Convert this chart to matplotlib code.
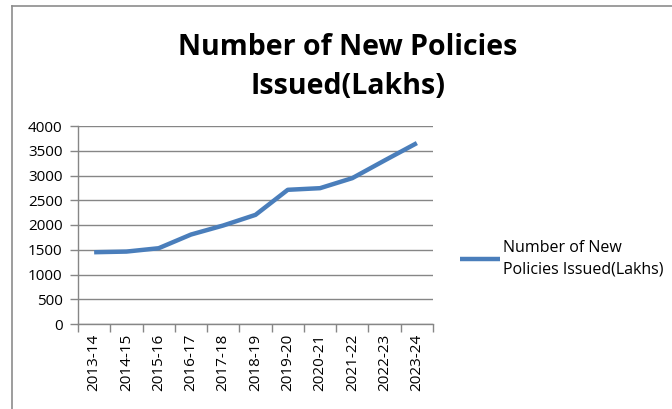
import matplotlib.pyplot as plt
from matplotlib.lines import Line2D
from matplotlib.ticker import FixedLocator, NullFormatter

# New policies issued per year, in lakhs
years = ["2013-14", "2014-15", "2015-16", "2016-17", "2017-18", "2018-19",
         "2019-20", "2020-21", "2021-22", "2022-23", "2023-24"]
policies = [1450, 1463, 1531, 1807, 1990, 2205, 2711, 2744, 2947, 3304, 3655]
y_ticks = [0, 500, 1000, 1500, 2000, 2500, 3000, 3500, 4000]

plt.rcParams['font.family'] = ['Open Sans', 'DejaVu Sans']
W, H = 672, 409
fig = plt.figure(figsize=(W / 100, H / 100), dpi=100)
ax = fig.add_axes([78 / W, 1 - 324 / H, (433 - 78) / W, (324 - 126) / H])

grey = "#868686"
x = list(range(len(years)))
ax.plot(x, policies, color="#4a7ebb", linewidth=3.2,
        label="Number of New\nPolicies Issued(Lakhs)", solid_capstyle="butt")

ax.set_xlim(-0.5, len(years) - 0.5)
ax.set_ylim(0, 4000)
ax.set_yticks(y_ticks)
ax.yaxis.grid(True, color=grey, linewidth=1)
ax.set_axisbelow(True)

# category labels centred, tick marks between categories
ax.set_xticks(x)
ax.set_xticklabels(years, rotation=90, fontsize=11)
ax.tick_params(axis="x", which="major", length=0, pad=7)
ax.xaxis.set_minor_locator(FixedLocator([i - 0.5 for i in range(len(years) + 1)]))
ax.xaxis.set_minor_formatter(NullFormatter())
ax.tick_params(axis="x", which="minor", length=6, color=grey, width=1)
ax.tick_params(axis="y", length=6, color=grey, width=1, labelsize=11, pad=5)

for side in ("top", "right"):
    ax.spines[side].set_visible(False)
for side in ("left", "bottom"):
    ax.spines[side].set_color(grey)
    ax.spines[side].set_linewidth(1)

fig.text(348 / W, 1 - 67 / H, "Number of New Policies\nIssued(Lakhs)",
         ha="center", va="center", fontsize=20.5, fontweight="bold",
         linespacing=1.45)

leg = ax.legend(loc="center left", bbox_to_anchor=(446 / W, 1 - 259 / H),
                bbox_transform=fig.transFigure, frameon=False, fontsize=11.5,
                handlelength=2.5, handletextpad=0.15)
leg.get_texts()[0].set_linespacing(1.45)

# chart area border
fig.add_artist(Line2D([11.5 / W, 11.5 / W], [0, 1 - 6 / H], color="#8c8c8c", linewidth=1.2))
fig.add_artist(Line2D([11.5 / W, 1], [1 - 6 / H, 1 - 6 / H], color="#8c8c8c", linewidth=1.2))

fig.savefig("out.png", dpi=100)
